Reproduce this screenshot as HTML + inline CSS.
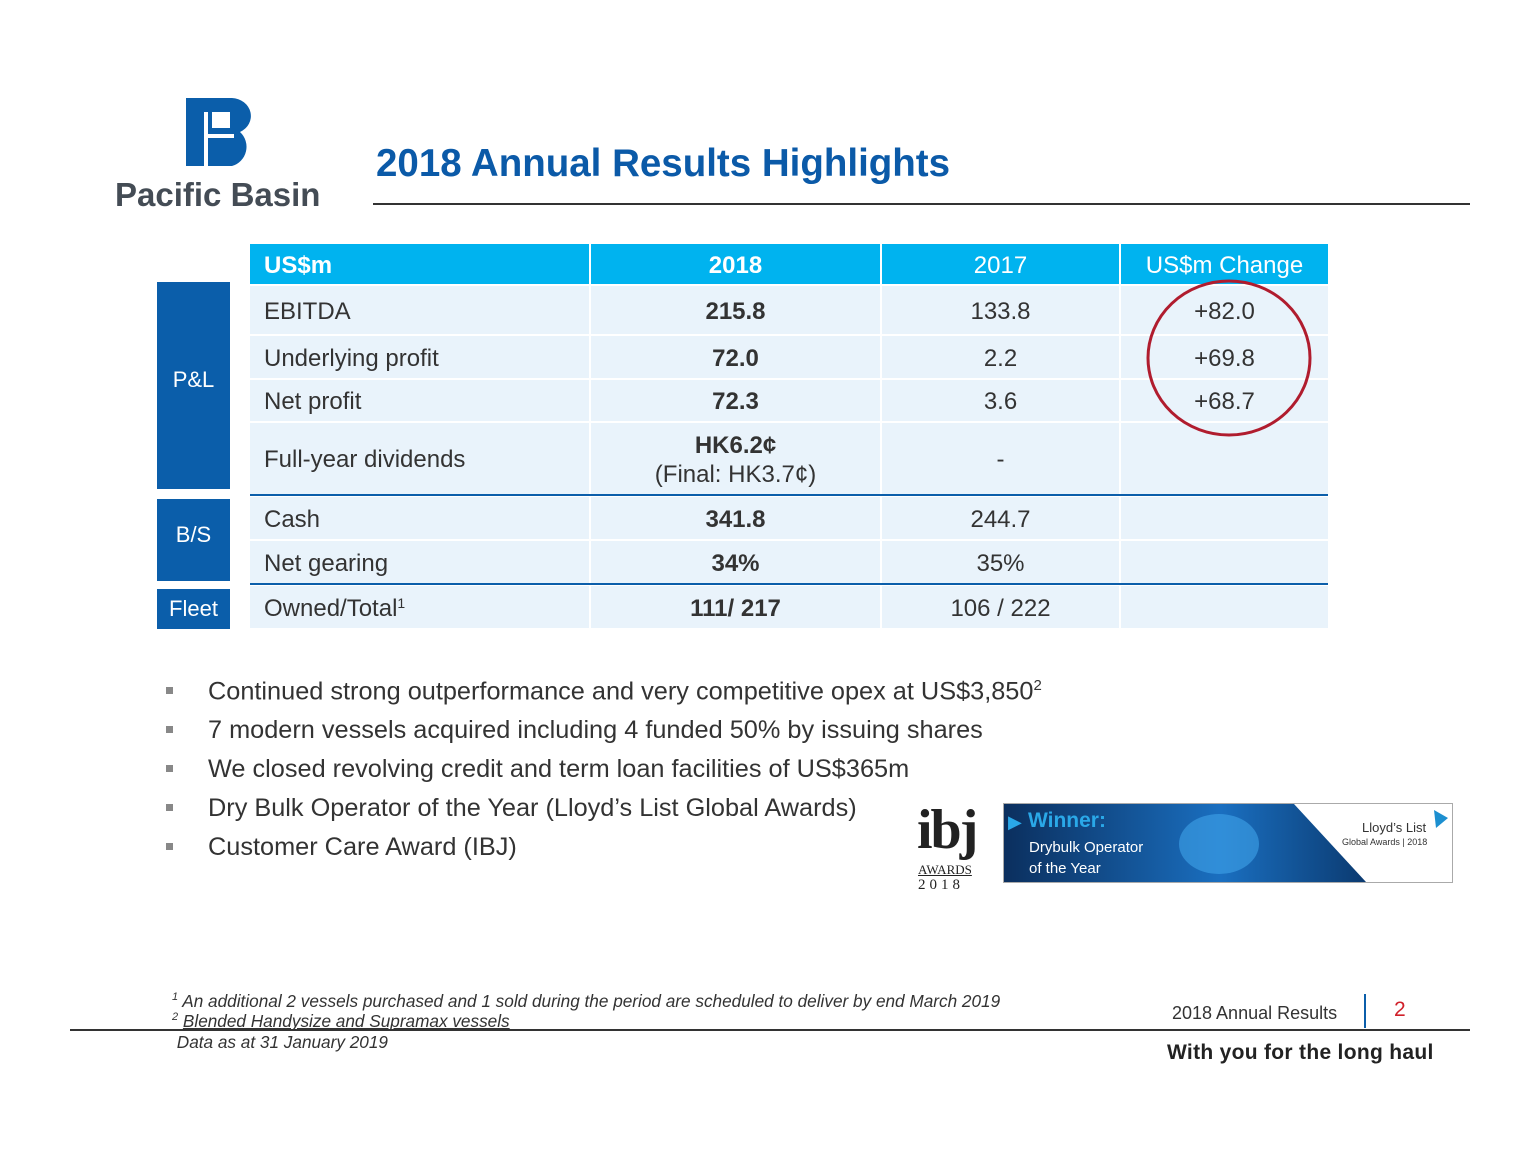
<!DOCTYPE html>
<html><head><meta charset="utf-8"><style>
body{margin:0;width:1540px;height:1155px;background:#fff;position:relative;font-family:"Liberation Sans",sans-serif;overflow:hidden}
.a{position:absolute}
.c{position:absolute;display:flex;align-items:center;justify-content:center;font-size:24px;color:#333;background:#e9f3fb;padding-top:3px;box-sizing:border-box}
.l{justify-content:flex-start;padding-left:14px}
.h{background:#00b3ef;color:#fff}
.b{font-weight:bold}
.side{position:absolute;background:#0b5eaa;color:#fff;font-size:22px;display:flex;align-items:center;justify-content:center}
.bul{position:absolute;left:208px;font-size:25.3px;color:#333}
.sq{position:absolute;left:166px;width:7px;height:7px;background:#888}
.fn{position:absolute;left:172px;font-size:17.2px;font-style:italic;color:#333;white-space:nowrap}
.fn s{text-decoration:none;font-size:11px;position:relative;top:-7px}
</style></head><body>
<!-- logo -->
<svg class="a" style="left:180px;top:92px" width="80" height="80">
<path d="M6 6 H52 A20 18 0 0 1 60 40 A20 20 0 0 1 52 74 H6 Z" fill="#0b5eaa"/>
<rect x="24" y="20" width="4" height="54" fill="#fff"/>
<rect x="32" y="20" width="18" height="16" fill="#fff"/>
<rect x="24" y="42" width="30" height="4" fill="#fff"/>
</svg>
<div class="a" style="left:115px;top:176px;font-size:33px;font-weight:bold;color:#444c55">Pacific Basin</div>
<div class="a" style="left:376px;top:142px;font-size:38.5px;font-weight:bold;color:#0b5aa8">2018 Annual Results Highlights</div>
<div class="a" style="left:373px;top:203px;width:1097px;height:2px;background:#333"></div>

<!-- table header -->
<div class="c h l b" style="left:250px;top:244px;width:339px;height:40px">US$m</div>
<div class="c h b" style="left:591px;top:244px;width:289px;height:40px">2018</div>
<div class="c h" style="left:882px;top:244px;width:237px;height:40px">2017</div>
<div class="c h" style="left:1121px;top:244px;width:207px;height:40px">US$m Change</div>

<div class="c l" style="left:250px;top:286px;width:339px;height:48px">EBITDA</div>
<div class="c b" style="left:591px;top:286px;width:289px;height:48px">215.8</div>
<div class="c" style="left:882px;top:286px;width:237px;height:48px">133.8</div>
<div class="c" style="left:1121px;top:286px;width:207px;height:48px">+82.0</div>

<div class="c l" style="left:250px;top:336px;width:339px;height:42px">Underlying profit</div>
<div class="c b" style="left:591px;top:336px;width:289px;height:42px">72.0</div>
<div class="c" style="left:882px;top:336px;width:237px;height:42px">2.2</div>
<div class="c" style="left:1121px;top:336px;width:207px;height:42px">+69.8</div>

<div class="c l" style="left:250px;top:380px;width:339px;height:41px">Net profit</div>
<div class="c b" style="left:591px;top:380px;width:289px;height:41px">72.3</div>
<div class="c" style="left:882px;top:380px;width:237px;height:41px">3.6</div>
<div class="c" style="left:1121px;top:380px;width:207px;height:41px">+68.7</div>

<div class="c l" style="left:250px;top:423px;width:339px;height:71px">Full-year dividends</div>
<div class="c" style="left:591px;top:423px;width:289px;height:71px;flex-direction:column;line-height:29px"><b>HK6.2¢</b><span>(Final: HK3.7¢)</span></div>
<div class="c" style="left:882px;top:423px;width:237px;height:71px">-</div>
<div class="c" style="left:1121px;top:423px;width:207px;height:71px"></div>
<div class="a" style="left:250px;top:494px;width:1078px;height:2px;background:#0b5eaa"></div>

<div class="c l" style="left:250px;top:497px;width:339px;height:42px">Cash</div>
<div class="c b" style="left:591px;top:497px;width:289px;height:42px">341.8</div>
<div class="c" style="left:882px;top:497px;width:237px;height:42px">244.7</div>
<div class="c" style="left:1121px;top:497px;width:207px;height:42px"></div>

<div class="c l" style="left:250px;top:541px;width:339px;height:42px">Net gearing</div>
<div class="c b" style="left:591px;top:541px;width:289px;height:42px">34%</div>
<div class="c" style="left:882px;top:541px;width:237px;height:42px">35%</div>
<div class="c" style="left:1121px;top:541px;width:207px;height:42px"></div>
<div class="a" style="left:250px;top:583px;width:1078px;height:2px;background:#0b5eaa"></div>

<div class="c l" style="left:250px;top:586px;width:339px;height:42px">Owned/Total<sup style="font-size:14px;align-self:flex-start;margin-top:6px">1</sup></div>
<div class="c b" style="left:591px;top:586px;width:289px;height:42px">111/ 217</div>
<div class="c" style="left:882px;top:586px;width:237px;height:42px">106 / 222</div>
<div class="c" style="left:1121px;top:586px;width:207px;height:42px"></div>

<div class="side" style="left:157px;top:282px;width:73px;height:207px;padding-bottom:12px;box-sizing:border-box">P&amp;L</div>
<div class="side" style="left:157px;top:499px;width:73px;height:82px;padding-bottom:10px;box-sizing:border-box">B/S</div>
<div class="side" style="left:157px;top:589px;width:73px;height:40px">Fleet</div>

<svg class="a" style="left:0;top:0" width="1540" height="1155"><ellipse cx="1229" cy="358" rx="81" ry="77" fill="none" stroke="#b01c2e" stroke-width="3"/></svg>

<div class="sq" style="top:687px"></div><div class="bul" style="top:677px">Continued strong outperformance and very competitive opex at US$3,850<sup style="font-size:15px">2</sup></div>
<div class="sq" style="top:726px"></div><div class="bul" style="top:716px">7 modern vessels acquired including 4 funded 50% by issuing shares</div>
<div class="sq" style="top:765px"></div><div class="bul" style="top:755px">We closed revolving credit and term loan facilities of US$365m</div>
<div class="sq" style="top:804px"></div><div class="bul" style="top:794px">Dry Bulk Operator of the Year (Lloyd’s List Global Awards)</div>
<div class="sq" style="top:843px"></div><div class="bul" style="top:833px">Customer Care Award (IBJ)</div>

<!-- ibj -->
<div class="a" style="left:917px;top:798px;font-family:'Liberation Serif',serif;font-size:56px;font-weight:bold;color:#222;letter-spacing:-2px">ibj</div>
<div class="a" style="left:918px;top:862px;font-family:'Liberation Serif',serif;font-size:13px;color:#222;text-decoration:underline">AWARDS</div>
<div class="a" style="left:918px;top:877px;font-family:'Liberation Serif',serif;font-size:15px;color:#222;letter-spacing:4px">2018</div>
<!-- banner -->
<div class="a" style="left:1003px;top:803px;width:448px;height:78px;border:1px solid #aaa;background:#fff;overflow:hidden">
<svg width="448" height="78"><defs><linearGradient id="g" x1="0" x2="1"><stop offset="0" stop-color="#0b2f5e"/><stop offset="0.6" stop-color="#1a6fc0"/><stop offset="1" stop-color="#0b3a70"/></linearGradient></defs><polygon points="0,0 290,0 362,78 0,78" fill="url(#g)"/><ellipse cx="215" cy="40" rx="40" ry="30" fill="#3fa3ea" opacity=".6"/><polygon points="430,6 444,14 432,24" fill="#1c8fd0"/></svg>
<div class="a" style="left:24px;top:5px;color:#2aa8e8;font-size:21px;font-weight:bold">Winner:</div>
<div class="a" style="left:4px;top:8px;color:#2aa8e8;font-size:18px">▶</div>
<div class="a" style="left:25px;top:33px;color:#fff;font-size:15px;line-height:21px">Drybulk Operator<br>of the Year</div>
<div class="a" style="left:358px;top:16px;color:#333;font-size:13px">Lloyd’s List</div>
<div class="a" style="left:338px;top:33px;color:#333;font-size:9px">Global Awards | 2018</div>
</div>

<!-- footer -->
<div class="fn" style="top:991px"><s>1</s> An additional 2 vessels purchased and 1 sold during the period are scheduled to deliver by end March 2019</div>
<div class="fn" style="top:1011px"><s>2</s> <u>Blended Handysize and Supramax vessels</u></div>
<div class="fn" style="top:1032px">&nbsp;Data as at 31 January 2019</div>
<div class="a" style="left:70px;top:1029px;width:1400px;height:2px;background:#333"></div>
<div class="a" style="left:1172px;top:1003px;font-size:18px;color:#333">2018 Annual Results</div>
<div class="a" style="left:1364px;top:994px;width:2px;height:34px;background:#0b5eaa"></div>
<div class="a" style="left:1394px;top:998px;font-size:21px;color:#d0202a">2</div>
<div class="a" style="left:1167px;top:1041px;font-size:21px;font-weight:bold;color:#222;letter-spacing:0.3px">With you for the long haul</div>
</body></html>
